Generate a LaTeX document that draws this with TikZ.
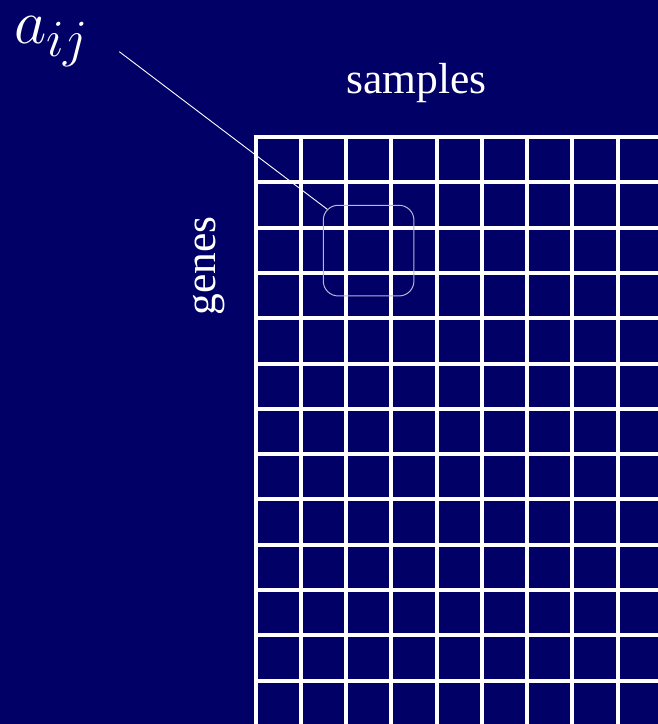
\RequirePackage{fix-cm}
\documentclass[tikz,border=0pt]{standalone}
\usepackage{fontspec}
\setmainfont{Liberation Serif}
\definecolor{navybg}{RGB}{0,0,102}
\begin{document}
\begin{tikzpicture}[x=1pt,y=-1pt,
  gridline/.style={white,line width=4pt},
  lbl/.style={text=white,inner sep=0pt,font=\fontsize{43.5}{50}\selectfont},
  cellbox/.style={draw=white!72!navybg,line width=1pt,rounded corners=15pt,minimum width=90.7pt,minimum height=90.7pt,inner sep=0pt},
  pointer/.style={white,line width=0.9pt}]
\fill[navybg] (0,0) rectangle (658,724);
\useasboundingbox (0,0) rectangle (658,724);
\begin{scope}
\clip (0,0) rectangle (658,724);
\foreach \k in {0,...,8}{
  \draw[gridline] (255.5+45.25*\k,135) -- (255.5+45.25*\k,730);
}
\foreach \k in {0,...,12}{
  \draw[gridline] (253.5,137+45.3*\k) -- (665,137+45.3*\k);
}
\end{scope}
\node[cellbox] (cell) at (368.6,250.6) {};
\node[text=white,inner sep=0pt,anchor=base west] (aij) at (14,43.5) {\scalebox{2.52}{\Huge$a_{ij}$}};
\coordinate (lstart) at (119.3,51.7);
\coordinate (lend) at (327.3,209.3);
\draw[pointer] (lstart) -- (lend);
\node[lbl,anchor=base] (samples) at (416.7,93) {samples};
\node[lbl,anchor=base,rotate=90] (genes) at (215,266) {genes};
\end{tikzpicture}
\end{document}
